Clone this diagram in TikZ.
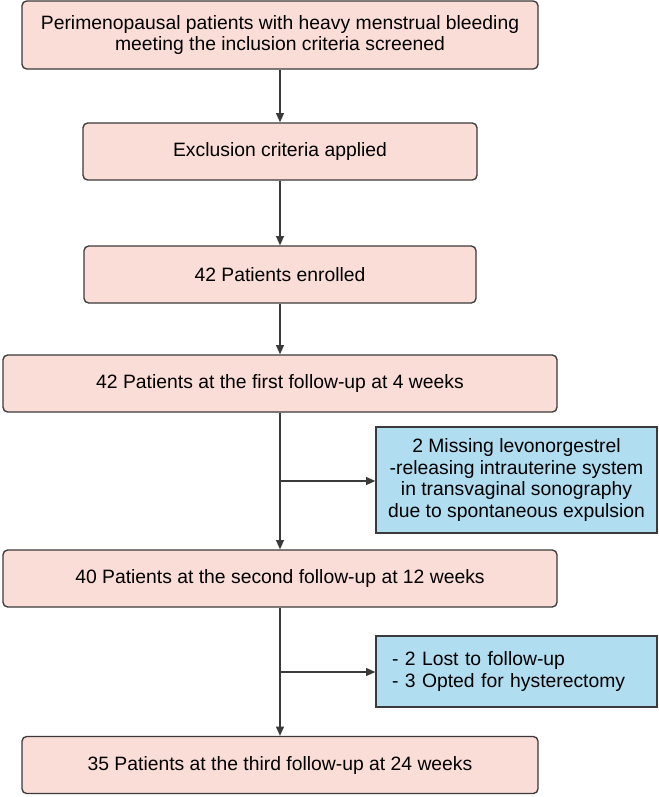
\documentclass[tikz,border=0pt]{standalone}
\usepackage{fontspec}
\setmainfont{Liberation Sans}
\usetikzlibrary{arrows.meta}
\definecolor{stagefill}{RGB}{250,221,215}
\definecolor{dropfill}{RGB}{176,221,240}
\definecolor{edgegray}{RGB}{58,58,58}
\begin{document}
\begin{tikzpicture}[
    x=0.75pt, y=-0.75pt,
    stage/.style={rectangle, rounded corners=3.5pt, draw=edgegray, line width=1pt, fill=stagefill,
                  minimum height=42.75pt, inner sep=0pt, align=center, font=\fontsize{14.5}{16.3}\selectfont},
    drop/.style={rectangle, draw=edgegray, line width=1pt, fill=dropfill, minimum width=210.75pt,
                 inner sep=0pt, font=\fontsize{14.5}{16.4}\selectfont},
    >={Triangle[length=7pt,width=6pt]}
]
    \useasboundingbox (0,0) rectangle (658,797);

    % Main stages
    \node[stage, minimum width=387pt, minimum height=51pt] (screen) at (280,35)
        {Perimenopausal patients with heavy menstrual bleeding\\meeting the inclusion criteria screened};
    \node[stage, minimum width=295.5pt] (exclude) at (280,151.5) {Exclusion criteria applied};
    \node[stage, minimum width=294pt]   (enrol)   at (280,274.5) {42 Patients enrolled};
    \node[stage, minimum width=415.5pt] (fu1)     at (280,383.5) {42 Patients at the first follow-up at 4 weeks};
    \node[stage, minimum width=415.5pt] (fu2)     at (280,578.5) {40 Patients at the second follow-up at 12 weeks};
    \node[stage, minimum width=387pt]   (fu3)     at (280,765)   {35 Patients at the third follow-up at 24 weeks};

    % Drop-outs
    \node[drop, minimum height=79.5pt, align=center] (missing) at (516.5,480)
        {2 Missing levonorgestrel\\-releasing intrauterine system\\in transvaginal sonography\\due to spontaneous expulsion};
    \node[drop, minimum height=53.25pt, inner xsep=12pt, text width=186.75pt, align=left] (lost) at (516.5,671.5)
        {- 2 Lost to follow-up\\- 3 Opted for hysterectomy};

    % Spine
    \draw[edgegray, line width=1pt, ->] (screen) -- (exclude);
    \draw[edgegray, line width=1pt, ->] (exclude) -- (enrol);
    \draw[edgegray, line width=1pt, ->] (enrol) -- (fu1);
    \draw[edgegray, line width=1pt, ->] (fu1) -- (fu2);
    \draw[edgegray, line width=1pt, ->] (fu2) -- (fu3);

    % Branches
    \coordinate (split1) at (280,481);
    \coordinate (split2) at (280,672);
    \draw[edgegray, line width=1pt, ->] (split1) -- (split1 -| missing.west);
    \draw[edgegray, line width=1pt, ->] (split2) -- (split2 -| lost.west);
\end{tikzpicture}
\end{document}
